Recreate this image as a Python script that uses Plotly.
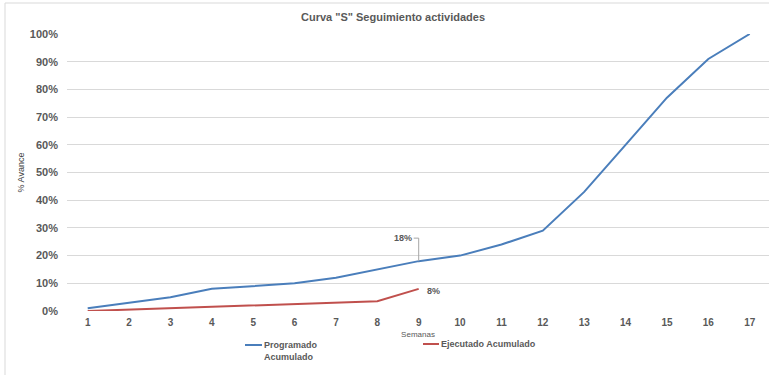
import plotly.graph_objects as go

# Weekly cumulative progress (fraction of total)
semanas = list(range(1, 18))
programado = [0.01, 0.03, 0.05, 0.08, 0.09, 0.10, 0.12, 0.15, 0.18, 0.20,
              0.24, 0.29, 0.43, 0.60, 0.77, 0.91, 1.00]
semanas_ejec = list(range(1, 10))
ejecutado = [0.0, 0.005, 0.01, 0.015, 0.02, 0.025, 0.03, 0.035, 0.08]

titulo = 'Curva "S" Seguimiento actividades'
nombre_prog = "Programado<br>Acumulado"
nombre_ejec = "Ejecutado Acumulado"

AZUL = "#4a7ebb"
ROJO = "#c0504d"
GRIS = "#595959"
GRID = "#d9d9d9"
FONT = "Liberation Sans, Arial, sans-serif"

W, H = 769, 375
L, T, B = 67, 34, 64
plot_w = W - L
plot_h = H - T - B
px_x = 41.375  # pixels per week on the category axis
x_hi = 0.5 + plot_w / px_x

fig = go.Figure()
fig.add_trace(go.Scatter(x=semanas, y=programado, mode="lines",
                         line=dict(color=AZUL, width=2), cliponaxis=False,
                         name="Programado Acumulado", showlegend=False))
fig.add_trace(go.Scatter(x=semanas_ejec, y=ejecutado, mode="lines",
                         line=dict(color=ROJO, width=2), cliponaxis=False,
                         name="Ejecutado Acumulado", showlegend=False))

# value labels for week 9
i9 = semanas.index(9)
lead_px = 23
lead_dy = lead_px / plot_h
fig.add_shape(type="line", x0=9, x1=9, y0=programado[i9], y1=programado[i9] + lead_dy,
              line=dict(color="#a6a6a6", width=1))
fig.add_shape(type="line", x0=9 - 5 / px_x, x1=9, y0=programado[i9] + lead_dy,
              y1=programado[i9] + lead_dy, line=dict(color="#a6a6a6", width=1))
fig.add_annotation(x=9, y=programado[i9], text=f"{programado[i9]:.0%}", showarrow=False,
                   xanchor="right", yanchor="middle", xshift=-5, yshift=lead_px,
                   font=dict(family=FONT, size=9, color=GRIS, weight="bold"))
j9 = semanas_ejec.index(9)
fig.add_annotation(x=9, y=ejecutado[j9], text=f"{ejecutado[j9]:.0%}", showarrow=False,
                   xanchor="left", yanchor="middle", xshift=6, yshift=-2,
                   font=dict(family=FONT, size=9, color=GRIS, weight="bold"))

def px2paper(xp, yp):
    return (xp - L) / plot_w, (H - B - yp) / plot_h

# outer chart frame (left and top edges)
x0, y0 = px2paper(5, 3)
x1, y1 = px2paper(W + 5, H + 5)
fig.add_shape(type="rect", xref="paper", yref="paper", x0=x0, y0=y1, x1=x1, y1=y0,
              line=dict(color=GRID, width=1), layer="below")

# legend: short swatch followed by left-aligned label in a fixed-width box
for (lx0, lx1, ly), col, txt, wbox in [((245, 262, 345), AZUL, nombre_prog, 70),
                                       ((423, 439, 344), ROJO, nombre_ejec, 110)]:
    a0, b0 = px2paper(lx0, ly)
    a1, _ = px2paper(lx1, ly)
    fig.add_shape(type="line", xref="paper", yref="paper", x0=a0, x1=a1, y0=b0, y1=b0,
                  line=dict(color=col, width=2))
    fig.add_annotation(xref="paper", yref="paper", x=a1, y=b0, text=txt, showarrow=False,
                       xanchor="left", yanchor="top", yshift=7, xshift=0,
                       align="left", width=wbox,
                       font=dict(family=FONT, size=9, color=GRIS, weight="bold"))

fig.update_layout(
    width=W, height=H,
    margin=dict(l=L, r=0, t=T, b=B),
    paper_bgcolor="white", plot_bgcolor="white",
    title=dict(text=titulo, x=393 / W, xanchor="center", y=1 - 17 / H, yanchor="middle",
               font=dict(family=FONT, size=11, color=GRIS, weight="bold")),
    showlegend=False,
    xaxis=dict(range=[0.5, x_hi], tickmode="array", tickvals=semanas,
               ticktext=[str(s) for s in semanas], showgrid=False, zeroline=False,
               showline=False, ticks="", ticklabelstandoff=4,
               tickfont=dict(family=FONT, size=10, color=GRIS, weight="bold"),
               title=dict(text="Semanas", standoff=4,
                          font=dict(family=FONT, size=8, color=GRIS))),
    yaxis=dict(range=[0, 1], tickvals=[i / 10 for i in range(11)], tickformat=".0%",
               showgrid=True, gridcolor=GRID, gridwidth=1, zeroline=False,
               showline=False, ticks="", ticklabelstandoff=8,
               tickfont=dict(family=FONT, size=11, color=GRIS, weight="bold"),
               title=dict(text="% Avance", standoff=3,
                          font=dict(family=FONT, size=9, color="#404040"))),
)

fig.write_html("out.html")
